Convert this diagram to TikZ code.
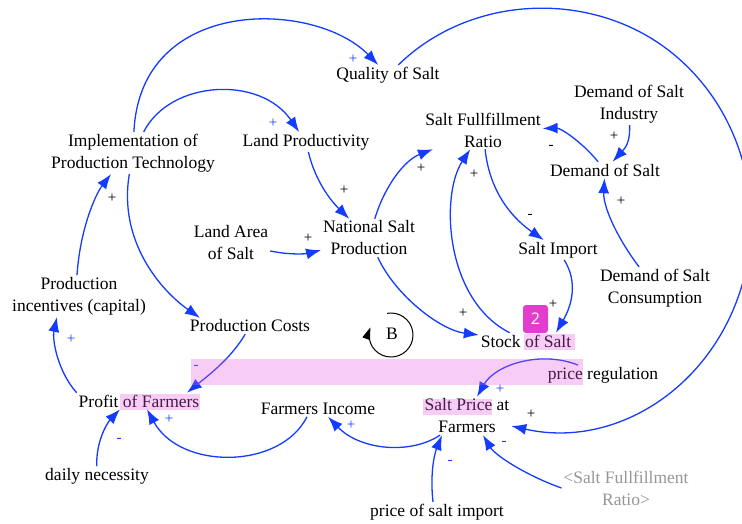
\documentclass[tikz,border=0pt]{standalone}
\usepackage{fontspec}
\setmainfont{Liberation Serif}
\newfontfamily\badgefont{Open Sans}
\usetikzlibrary{arrows.meta}
\definecolor{linkblue}{RGB}{20,60,255}
\definecolor{hlpink}{RGB}{228,90,222}
\definecolor{badgecol}{RGB}{226,62,206}
\definecolor{ghost}{RGB}{150,150,150}
\begin{document}
\begin{tikzpicture}[x=1pt,y=-1pt,
  var/.style={font=\fontsize{17.5}{22}\selectfont, align=center, inner sep=2pt, outer sep=0pt},
  link/.style={draw=linkblue, line width=1.3pt, -{Latex[length=15pt,width=11pt]}},
  pol/.style={font=\fontsize{15}{15}\selectfont, inner sep=0pt},
  bpol/.style={pol, text=linkblue},
  hl/.style={fill=hlpink, fill opacity=0.3, draw=none},
]
\useasboundingbox (0,0) rectangle (742,523);
% variables
\node[var] (quality) at (388,75) {Quality of Salt};
\node[var] (impl) at (133,153) {Implementation of\\Production Technology};
\node[var] (landprod) at (306,142) {Land Productivity};
\node[var] (sfr) at (483,130) {Salt Fullfillment\\Ratio};
\node[var] (dsi) at (629,104) {Demand of Salt\\Industry};
\node[var] (dos) at (605,170) {Demand of Salt};
\node[var] (landarea) at (231,243) {Land Area\\of Salt};
\node[var] (national) at (369,238) {National Salt\\Production};
\node[var] (simport) at (558,250) {Salt Import};
\node[var] (dsc) at (655,288) {Demand of Salt\\Consumption};
\node[var] (pinc) at (79,296) {Production\\incentives (capital)};
\node[var] (pcost) at (250,326) {Production Costs};
\node[var] (stock) at (526,341) {Stock of Salt};
\node[var] (preg) at (603,375) {price regulation};
\node[var] (profit) at (139,401) {Profit of Farmers};
\node[var] (fincome) at (318,409) {Farmers Income};
\node[var] (sprice) at (467,416) {Salt Price at\\Farmers};
\node[var] (daily) at (97,476) {daily necessity};
\node[var, text=ghost] (gsfr) at (626,488) {<Salt Fullfillment\\Ratio>};
\node[var] (psi) at (437,512) {price of salt import};

% connectors
\draw[link] (impl) .. controls (140,-5) and (315,0) .. (quality);
\draw[link] (impl) .. controls (170,80) and (260,75) .. (landprod);
\draw[link] (landprod) .. controls (315,180) and (330,200) .. (national);
\draw[link] (landarea) .. controls (295,256) and (310,253) .. (national);
\draw[link] (national) .. controls (385,185) and (405,160) .. (sfr);
\draw[link] (stock) .. controls (445,300) and (440,195) .. (sfr);
\draw[link] (sfr) .. controls (490,195) and (515,220) .. (simport);
\draw[link] (dos) .. controls (580,140) and (560,128) .. (sfr);
\draw[link] (dsi) .. controls (630,138) and (628,145) .. (dos);
\draw[link] (dsc) .. controls (615,235) and (603,205) .. (dos);
\draw[link] (simport) .. controls (578,282) and (572,305) .. ([xshift=30pt]stock.north);
\draw[link] (national) .. controls (395,295) and (440,330) .. (stock);
\coordinate (qa) at (664.1,46.9);
\coordinate (qb) at (736.3,302.1);
\draw[link] (quality) .. controls (470,-5) and (586.5,-9.5) .. (qa)
  .. controls (741.7,103.3) and (771.8,209.4) .. (qb)
  .. controls (700.8,394.8) and (609.9,448.2) .. (sprice);
\draw[link] (impl) .. controls (118,240) and (160,290) .. ([xshift=-50pt]pcost.north);
\draw[link] (pcost) .. controls (230,360) and (205,378) .. ([xshift=48pt]profit.north);
\draw[link] (profit.north west) .. controls (58,372) and (52,340) .. ([xshift=-22pt]pinc.south);
\draw[link] ([xshift=-2pt]pinc.north) .. controls (80,230) and (95,195) .. ([xshift=-22pt]impl.south);
\draw[link] (daily) .. controls (96,440) and (108,422) .. ([xshift=-19pt]profit.south);
\draw[link] ([xshift=-11pt]fincome.south) .. controls (280,470) and (180,470) .. ([xshift=8pt]profit.south);
\draw[link] ([xshift=-27pt]sprice.south) .. controls (410,455) and (360,450) .. ([xshift=10pt]fincome.south);
\draw[link] ([xshift=-25pt]preg.north) .. controls (540,350) and (495,365) .. ([xshift=10pt]sprice.north);
\draw[link] ([xshift=-4pt]psi.north) .. controls (430,475) and (434,455) .. ([xshift=-25pt]sprice.south);
\draw[link] (gsfr.west) .. controls (525,475) and (495,455) .. ([xshift=16pt]sprice.south);

% polarities
\node[bpol] (s1) at (353,59) {+};
\node[bpol] (s2) at (273,123) {+};
\node[pol] (s3) at (344,190) {+};
\node[pol] (s4) at (308,238) {+};
\node[pol] (s5) at (421,168) {+};
\node[pol] (s6) at (474,174) {+};
\node[pol] (s7) at (530,216) {-};
\node[pol] (s8) at (551,147) {-};
\node[pol] (s9) at (614,136) {+};
\node[pol] (s10) at (621,201) {+};
\node[pol] (s11) at (553,304) {+};
\node[pol] (s12) at (463,313) {+};
\node[pol] (s13) at (531,414) {+};
\node[bpol] (s15) at (196,367) {-};
\node[bpol] (s16) at (71,339) {+};
\node[pol] (s17) at (112,198) {+};
\node[bpol] (s18) at (119,440) {-};
\node[bpol] (s19) at (169,419) {+};
\node[bpol] (s20) at (351,425) {+};
\node[bpol] (s21) at (500,389) {+};
\node[bpol] (s22) at (450,462) {-};
\node[bpol] (s23) at (504,443) {-};

% balancing loop
\node[var] (loopB) at (392,334) {B};
\coordinate (loopc) at (391,335);
\draw[line width=1pt, -{Triangle[length=12pt,width=8pt]}] ([shift={(-100:22)}]loopc) arc[start angle=-100, end angle=200, radius=22];

% highlights
\fill[hl] (191,359) rectangle (583,385);
\fill[hl] (120,394) rectangle (200,410);
\fill[hl] (524,334) rectangle (575,350);
\fill[hl] (423,399) rectangle (492,415);
\node[fill=badgecol, rounded corners=3pt, minimum width=25pt, minimum height=28pt, inner sep=0pt, text=white, font=\badgefont\fontsize{16}{16}\selectfont] (badge2) at (535.5,319) {2};
\end{tikzpicture}
\end{document}
